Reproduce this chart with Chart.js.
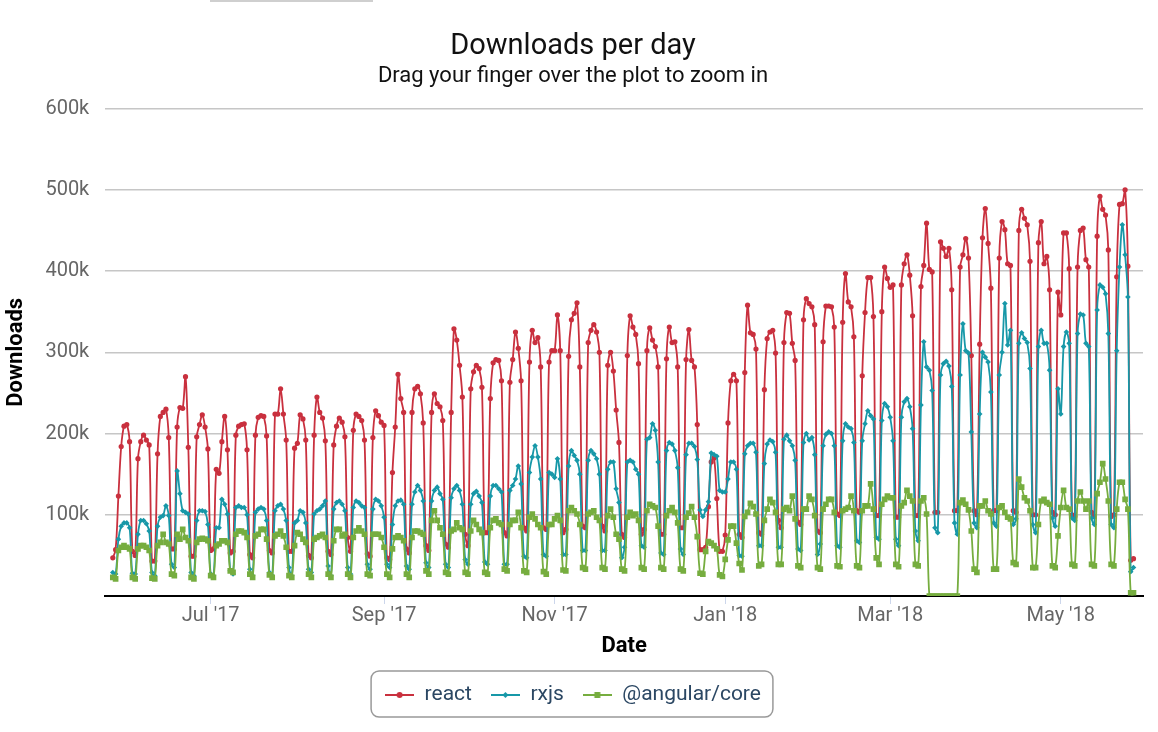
<!DOCTYPE html>
<html>
<head>
<meta charset="utf-8">
<script src="https://cdn.jsdelivr.net/npm/chart.js@4.4.1/dist/chart.umd.min.js"></script>
<style>
  body { margin: 0; background: #fff; }
  #wrap { position: relative; width: 1158px; height: 732px; }
  #tab { position: absolute; left: 210px; top: 0; width: 163px; height: 2px; background: #cfcfcf; }
</style>
</head>
<body>
<div id="wrap">
  <div id="tab"></div>
  <canvas id="myChart" width="1158" height="732"></canvas>
</div>
<script>
// one value per day (thousands of downloads), starting Sat 2017-05-27, one row per week Sat..Fri
const startDate = '2017-05-27';

const reactK = [
  47,57,123,184,209,211,190,
  55,50,169,190,198,192,186,
  43,43,175,221,226,230,195,
  58,58,208,232,231,270,183,
  49,49,196,211,223,208,181,
  56,58,156,151,190,221,180,
  53,55,198,209,211,212,180,
  51,47,198,220,222,221,197,
  56,53,224,224,255,224,192,
  55,55,182,188,223,218,192,
  50,47,198,245,226,219,191,
  55,51,186,209,219,214,196,
  72,55,204,224,221,216,192,
  52,49,195,228,222,214,210,
  47,45,152,208,273,243,226,
  58,53,226,255,258,249,213,
  62,56,226,249,237,233,216,
  64,60,226,329,315,284,245,
  76,62,255,276,284,280,257,
  78,78,243,287,291,290,265,
  78,74,263,291,325,305,265,
  84,80,288,327,312,318,282,
  84,82,288,302,302,346,302,
  78,82,295,340,348,361,282,
  86,84,312,327,334,325,300,
  86,80,284,300,277,229,189,
  76,72,296,345,331,322,286,
  76,82,302,330,315,307,282,
  76,76,292,331,312,313,282,
  84,84,291,328,290,282,211,
  57,57,60,110,165,170,120,
  55,55,75,213,265,273,265,
  76,72,275,358,324,322,304,
  78,76,254,317,325,327,299,
  93,84,312,349,348,311,290,
  91,88,340,366,360,356,334,
  80,78,313,357,357,356,331,
  101,99,337,397,362,356,319,
  105,103,271,349,392,392,344,
  99,99,350,405,391,380,383,
  97,97,383,409,420,395,345,
  99,99,381,407,459,402,399,
  103,103,436,428,418,428,377,
  105,105,405,420,440,416,296,
  105,100,310,441,477,434,379,
  105,105,416,461,451,409,407,
  105,103,450,476,465,457,412,
  100,100,435,461,409,418,377,
  103,100,374,346,447,447,403,
  100,98,405,450,453,414,405,
  103,98,443,492,476,469,426,
  98,100,393,482,483,500,406,
  44,46
];

const rxjsK = [
  29,27,70,86,90,90,84,
  28,27,76,93,93,89,80,
  29,25,86,97,99,111,99,
  39,35,154,126,105,103,101,
  29,25,93,105,105,104,88,
  27,25,84,84,119,113,101,
  31,27,109,111,109,109,100,
  33,25,103,107,109,107,93,
  29,25,105,111,113,107,93,
  35,25,90,93,105,103,90,
  33,29,101,105,107,111,117,
  37,25,107,115,117,113,105,
  35,27,109,117,115,111,109,
  39,33,107,119,117,111,97,
  39,35,88,111,117,118,113,
  37,33,113,128,136,130,117,
  41,35,117,130,134,126,119,
  39,35,121,132,136,130,113,
  45,39,113,126,129,123,115,
  42,39,123,136,136,132,128,
  39,39,130,136,144,160,138,
  49,47,152,171,185,171,144,
  51,49,152,150,146,169,144,
  51,51,160,179,173,167,150,
  56,56,167,179,175,169,150,
  56,56,156,165,165,132,115,
  47,60,165,167,165,156,150,
  62,60,193,195,212,204,165,
  53,51,179,189,187,179,158,
  58,51,174,188,188,184,168,
  106,98,106,116,176,174,172,
  130,128,128,144,165,165,156,
  50,49,175,185,188,188,177,
  62,62,163,187,192,190,177,
  60,60,193,198,191,185,167,
  58,56,189,200,192,195,174,
  51,64,185,199,202,200,185,
  62,60,191,212,208,206,189,
  68,66,191,212,228,222,218,
  72,70,216,237,233,220,191,
  70,62,220,239,243,233,206,
  80,68,235,313,282,278,253,
  84,78,272,286,289,283,258,
  90,76,272,335,302,299,202,
  90,84,224,300,294,288,251,
  90,86,272,300,360,309,327,
  88,95,311,324,317,312,280,
  88,78,307,327,311,311,278,
  96,86,255,224,307,325,311,
  96,93,323,347,346,311,307,
  96,88,352,383,380,372,323,
  88,84,302,405,457,420,368,
  30,35
];

const angularK = [
  23,21,56,60,62,60,58,
  23,21,58,62,62,60,56,
  22,21,62,66,76,66,64,
  27,25,76,70,82,72,68,
  23,21,66,70,71,70,68,
  25,23,62,64,68,68,66,
  31,29,76,80,80,78,72,
  27,23,74,76,82,82,70,
  26,23,74,76,80,74,60,
  25,23,62,78,76,70,66,
  27,23,70,72,74,76,72,
  27,23,68,82,82,74,76,
  27,23,72,80,84,80,76,
  27,25,76,76,76,72,60,
  27,23,58,72,74,72,68,
  27,23,72,80,80,78,76,
  31,27,93,105,93,84,76,
  29,27,80,82,90,84,82,
  29,27,80,93,88,82,78,
  29,27,84,93,95,90,88,
  33,31,88,93,93,103,84,
  31,29,97,101,95,88,84,
  30,27,88,88,95,99,93,
  32,31,105,109,105,101,88,
  35,33,101,103,105,97,93,
  35,33,99,107,97,76,70,
  33,31,97,103,99,101,93,
  35,33,105,113,111,109,86,
  35,33,99,105,109,103,90,
  33,31,97,102,110,97,73,
  28,27,55,67,65,62,58,
  26,24,45,69,86,86,65,
  40,32,98,103,114,110,101,
  37,39,93,107,119,115,103,
  39,39,107,109,105,123,95,
  37,35,107,107,123,119,99,
  35,33,107,113,119,119,103,
  37,36,105,107,109,123,105,
  37,35,105,111,111,138,107,
  47,39,113,119,123,121,121,
  39,36,111,115,130,123,117,
  39,37,117,121,101,0,0,
  0,0,0,0,0,0,0,
  0,0,115,118,113,106,80,
  33,29,111,111,117,105,101,
  33,33,109,111,103,97,95,
  41,39,144,134,121,117,105,
  35,35,88,117,119,115,113,
  37,35,74,109,130,109,107,
  39,37,117,128,117,107,117,
  39,37,126,140,163,144,117,
  39,37,107,140,140,119,107,
  4,4
];

const seriesNames = ['react', 'rxjs', '@angular/core'];
const seriesColors = ['#c9303e', '#1798a8', '#76ad3f'];
const tickDates = ['2017-07-01', '2017-09-01', '2017-11-01', '2018-01-01', '2018-03-01', '2018-05-01'];
const tickLabels = ["Jul '17", "Sep '17", "Nov '17", "Jan '18", "Mar '18", "May '18"];
const yTicks = [100000, 200000, 300000, 400000, 500000, 600000];

const DAY = 86400000;
const t0 = Date.parse(startDate + 'T00:00:00Z');
const dayOf = s => Math.round((Date.parse(s + 'T00:00:00Z') - t0) / DAY);
const tickDays = tickDates.map(dayOf);

const toPoints = arr => arr.map((v, i) => ({ x: i, y: v * 1000 }));

// legend icon: short line with the series marker on it
function legendIcon(color, shape) {
  const c = document.createElement('canvas');
  c.width = 29; c.height = 12;
  const g = c.getContext('2d');
  g.strokeStyle = color; g.fillStyle = color; g.lineWidth = 2;
  g.beginPath(); g.moveTo(0, 6); g.lineTo(29, 6); g.stroke();
  g.beginPath();
  if (shape === 'circle') g.arc(14.5, 6, 3, 0, Math.PI * 2);
  else if (shape === 'diamond') { g.moveTo(14.5, 3); g.lineTo(17.5, 6); g.lineTo(14.5, 9); g.lineTo(11.5, 6); g.closePath(); }
  else g.rect(11.5, 3, 6, 6);
  g.fill();
  return c;
}
const icons = [legendIcon(seriesColors[0], 'circle'), legendIcon(seriesColors[1], 'diamond'), legendIcon(seriesColors[2], 'square')];

const legendBorder = {
  id: 'legendBorder',
  afterDraw(chart) {
    const boxes = chart.legend.legendHitBoxes;
    if (!boxes || !boxes.length) return;
    const ctx = chart.ctx;
    const l = Math.min(...boxes.map(b => b.left)) - 14;
    const r = Math.max(...boxes.map(b => b.left + b.width)) + 12;
    const t = boxes[0].top - 13.5;
    const b = boxes[0].top + boxes[0].height + 11.5;
    ctx.save();
    ctx.strokeStyle = '#999';
    ctx.lineWidth = 1.5;
    ctx.beginPath();
    ctx.roundRect(l, t, r - l, b - t, 8);
    ctx.stroke();
    ctx.restore();
  }
};

Chart.defaults.font.family = 'Roboto, "Noto Sans", sans-serif';

const ctx = document.getElementById('myChart').getContext('2d');
const myChart = new Chart(ctx, {
  type: 'line',
  data: {
    datasets: [
      {
        label: seriesNames[0], data: toPoints(reactK), order: 2,
        borderColor: seriesColors[0], backgroundColor: seriesColors[0],
        borderWidth: 1.8, pointRadius: 2.6, pointStyle: 'circle', pointBorderWidth: 0, tension: 0.35
      },
      {
        label: seriesNames[1], data: toPoints(rxjsK), order: 1,
        borderColor: seriesColors[1], backgroundColor: seriesColors[1],
        borderWidth: 1.8, pointRadius: 2.8, pointStyle: 'rectRot', pointBorderWidth: 0, tension: 0.35
      },
      {
        label: seriesNames[2], data: toPoints(angularK), order: 0,
        borderColor: seriesColors[2], backgroundColor: seriesColors[2],
        borderWidth: 1.8, pointRadius: 4, pointStyle: 'rect', pointBorderWidth: 0, tension: 0.35
      }
    ]
  },
  options: {
    responsive: false,
    animation: false,
    devicePixelRatio: 1,
    layout: { padding: { left: 3, right: 15, top: 0, bottom: 16.5 } },
    plugins: {
      title: {
        display: true, text: 'Downloads per day', color: '#111',
        font: { size: 29, weight: 'normal' }, padding: { top: 29.6, bottom: -1 }
      },
      subtitle: {
        display: true, text: 'Drag your finger over the plot to zoom in', color: '#111',
        font: { size: 22, weight: 'normal' }, padding: { top: 0, bottom: 18.8 }
      },
      legend: {
        position: 'bottom',
        labels: {
          usePointStyle: true, pointStyleWidth: 29, padding: 19,
          color: '#2b4763', font: { size: 21 },
          generateLabels: chart => chart.data.datasets.map((ds, i) => ({
            text: ds.label, pointStyle: icons[i], fillStyle: ds.borderColor,
            strokeStyle: ds.borderColor, lineWidth: 0, fontColor: '#2b4763',
            hidden: false, datasetIndex: i
          }))
        }
      },
      tooltip: { enabled: false }
    },
    scales: {
      x: {
        type: 'linear', min: -2.7, max: 368.4,
        afterBuildTicks: axis => { axis.ticks = tickDays.map(v => ({ value: v })); },
        ticks: {
          autoSkip: false, maxRotation: 0, color: '#666', font: { size: 20, lineHeight: 1 }, padding: 2,
          callback: v => tickLabels[tickDays.indexOf(v)] || ''
        },
        grid: { drawOnChartArea: false, color: '#ccd6eb', tickLength: 8, lineWidth: 1 },
        border: { color: '#000', width: 2 },
        title: { display: true, text: 'Date', color: '#000', font: { size: 22, weight: 'bold' }, padding: { top: 4.8, bottom: 6.3 } }
      },
      y: {
        min: 0, max: 600000,
        afterBuildTicks: axis => { axis.ticks = [0].concat(yTicks).map(v => ({ value: v })); },
        ticks: {
          color: '#666', font: { size: 20 }, padding: 16,
          callback: v => v === 0 ? '' : (v / 1000) + 'k'
        },
        grid: {
          drawTicks: false, lineWidth: 1.5,
          color: c => c.tick && c.tick.value === 0 ? 'rgba(0,0,0,0)' : '#c6c6c6'
        },
        border: { display: false },
        title: { display: true, text: 'Downloads', color: '#000', font: { size: 22, weight: 'bold' }, padding: { top: 0, bottom: 0 } }
      }
    }
  },
  plugins: [legendBorder]
});
</script>
</body>
</html>
